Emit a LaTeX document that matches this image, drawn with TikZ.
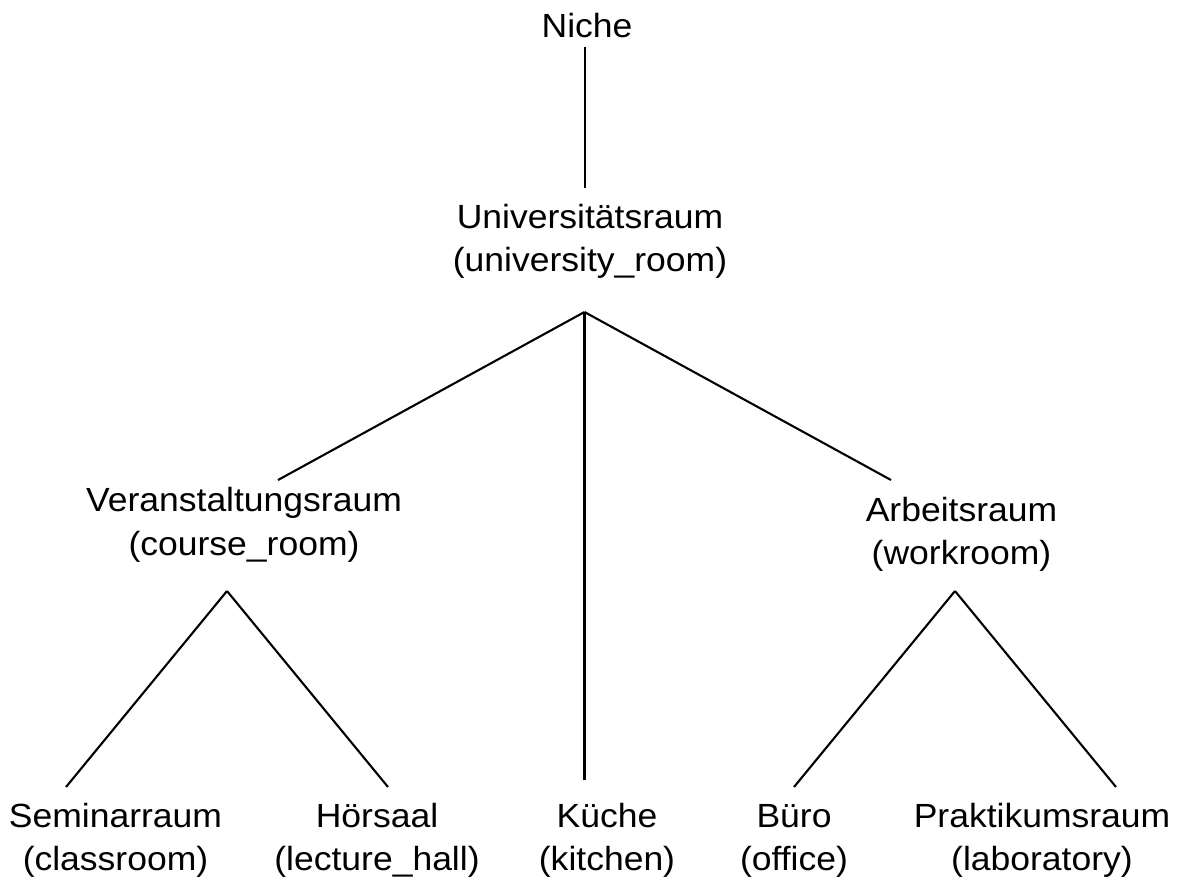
\documentclass[tikz,border=0pt]{standalone}
\usepackage{fontspec}
\setmainfont{Liberation Sans}[FakeStretch=1.06]
\begin{document}
\begin{tikzpicture}[x=0.5pt,y=-0.5pt,
  lbl/.style={anchor=base,inner sep=0pt,align=center,
    font=\fontsize{16.75pt}{21.75pt}\selectfont},
  edge/.style={line width=1.05pt,line cap=butt}]
\useasboundingbox (0,0) rectangle (1184,880);

% concepts (anchored at the baseline of their last line)
\node[lbl] (niche) at (587,37.3) {Niche};
\node[lbl] (univ)  at (590,271.5) {Universitätsraum\\(university\_room)};
\node[lbl] (course) at (244,555.2) {Veranstaltungsraum\\(course\_room)};
\node[lbl] (work)  at (961.5,564.5) {Arbeitsraum\\(workroom)};
\node[lbl] (sem)   at (115.5,870.5) {Seminarraum\\(classroom)};
\node[lbl] (hoer)  at (377,870.5) {Hörsaal\\(lecture\_hall)};
\node[lbl] (kue)   at (607,870.5) {Küche\\(kitchen)};
\node[lbl] (buero) at (794,870.5) {Büro\\(office)};
\node[lbl] (prak)  at (1042,870.5) {Praktikumsraum\\(laboratory)};

% attachment points of the connectors
\coordinate (niche-out)  at (585,47);
\coordinate (univ-in)    at (585,188);
\coordinate (univ-out)   at (584.5,312);
\coordinate (course-in)  at (278,480);
\coordinate (work-in)    at (891,480);
\coordinate (kue-in)     at (584.5,780);
\coordinate (course-out) at (227,591);
\coordinate (work-out)   at (955,591);
\coordinate (sem-in)     at (66,787);
\coordinate (hoer-in)    at (388,787);
\coordinate (buero-in)   at (794,787);
\coordinate (prak-in)    at (1116,787);

% hierarchy
\draw[edge] (niche-out) -- (univ-in);
\draw[edge] (univ-out) -- (course-in);
\draw[edge] (univ-out) -- (kue-in);
\draw[edge] (univ-out) -- (work-in);
\draw[edge] (course-out) -- (sem-in);
\draw[edge] (course-out) -- (hoer-in);
\draw[edge] (work-out) -- (buero-in);
\draw[edge] (work-out) -- (prak-in);
\end{tikzpicture}
\end{document}
